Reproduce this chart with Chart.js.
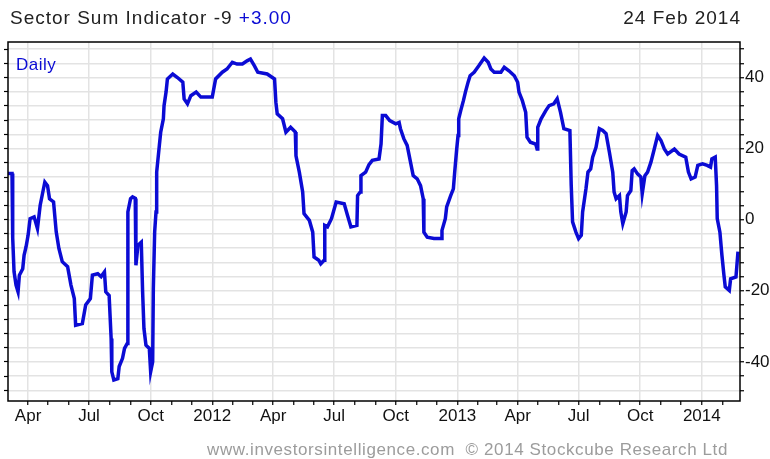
<!DOCTYPE html>
<html>
<head>
<meta charset="utf-8">
<script src="https://cdn.jsdelivr.net/npm/chart.js@4"></script>
<style>
  html, body { margin: 0; padding: 0; background: #fff; }
</style>
</head>
<body>
<canvas id="sectorChart" width="770" height="459"></canvas>
<script>
// header / footer texts
const titleText = 'Sector Sum Indicator -9';
const changeText = '+3.00';
const dateText = '24 Feb 2014';
const periodText = 'Daily';
const footerText = 'www.investorsintelligence.com  \u00A9 2014 Stockcube Research Ltd';

// series
const dates = [
  '2011-03-02','2011-03-08','2011-03-09','2011-03-11','2011-03-14','2011-03-17','2011-03-19','2011-03-24','2011-03-26','2011-03-29',
  '2011-04-01','2011-04-04','2011-04-10','2011-04-15','2011-04-19','2011-04-23','2011-04-26','2011-04-30','2011-05-03','2011-05-09',
  '2011-05-13','2011-05-17','2011-05-22','2011-05-30','2011-06-04','2011-06-09','2011-06-11','2011-06-21','2011-06-26','2011-07-03',
  '2011-07-06','2011-07-14','2011-07-19','2011-07-24','2011-07-26','2011-07-31','2011-08-03','2011-08-04','2011-08-07','2011-08-13',
  '2011-08-15','2011-08-20','2011-08-23','2011-08-27','2011-08-28','2011-09-01','2011-09-04','2011-09-08','2011-09-09','2011-09-12',
  '2011-09-17','2011-09-19','2011-09-21','2011-09-24','2011-09-29','2011-10-01','2011-10-04','2011-10-05','2011-10-07','2011-10-09',
  '2011-10-10','2011-10-14','2011-10-16','2011-10-20','2011-10-21','2011-10-24','2011-10-26','2011-11-03','2011-11-10','2011-11-18',
  '2011-11-20','2011-11-25','2011-11-30','2011-12-08','2011-12-15','2012-01-01','2012-01-06','2012-01-16','2012-01-23','2012-01-31',
  '2012-02-07','2012-02-15','2012-02-22','2012-02-27','2012-03-04','2012-03-09','2012-03-23','2012-04-03','2012-04-05','2012-04-07',
  '2012-04-15','2012-04-20','2012-04-27','2012-05-04','2012-05-05','2012-05-10','2012-05-15','2012-05-17','2012-05-25','2012-05-30',
  '2012-06-01','2012-06-08','2012-06-11','2012-06-16','2012-06-17','2012-06-21','2012-06-27','2012-07-04','2012-07-16','2012-07-21',
  '2012-07-26','2012-08-04','2012-08-05','2012-08-09','2012-08-10','2012-08-17','2012-08-22','2012-08-27','2012-09-06','2012-09-09',
  '2012-09-11','2012-09-16','2012-09-22','2012-10-01','2012-10-06','2012-10-08','2012-10-13','2012-10-18','2012-10-23','2012-10-27',
  '2012-11-02','2012-11-07','2012-11-11','2012-11-12','2012-11-17','2012-11-27','2012-12-08','2012-12-09','2012-12-14','2012-12-16',
  '2012-12-22','2012-12-26','2012-12-28','2012-12-31','2013-01-02','2013-01-03','2013-01-06','2013-01-10','2013-01-13','2013-01-17',
  '2013-01-20','2013-01-26','2013-02-02','2013-02-10','2013-02-16','2013-02-20','2013-02-25','2013-03-07','2013-03-12','2013-03-19',
  '2013-03-27','2013-04-01','2013-04-03','2013-04-08','2013-04-13','2013-04-15','2013-04-20','2013-04-28','2013-04-30','2013-05-01',
  '2013-05-06','2013-05-13','2013-05-18','2013-05-25','2013-05-30','2013-06-04','2013-06-09','2013-06-18','2013-06-20','2013-06-22',
  '2013-06-27','2013-07-01','2013-07-05','2013-07-07','2013-07-12','2013-07-15','2013-07-19','2013-07-22','2013-07-27','2013-08-01',
  '2013-08-06','2013-08-11','2013-08-16','2013-08-21','2013-08-23','2013-08-26','2013-08-31','2013-09-02','2013-09-05','2013-09-10',
  '2013-09-12','2013-09-17','2013-09-19','2013-09-22','2013-09-27','2013-10-02','2013-10-04','2013-10-08','2013-10-12','2013-10-17',
  '2013-10-22','2013-10-27','2013-11-01','2013-11-06','2013-11-11','2013-11-21','2013-11-28','2013-12-08','2013-12-12','2013-12-16',
  '2013-12-22','2013-12-26','2014-01-02','2014-01-09','2014-01-14','2014-01-16','2014-01-21','2014-01-23','2014-01-24','2014-01-28',
  '2014-01-31','2014-02-03','2014-02-05','2014-02-11','2014-02-13','2014-02-21','2014-02-24'
];
const values = [
  13, 13, -5, -14.6, -18.4, -20.3, -15.6, -13.8, -10, -7.6,
  -4.4, 0.3, 0.8, -2.5, 4, 7.8, 10.6, 9.6, 5.9, 5,
  -3.4, -8.1, -11.8, -13.2, -18.4, -22.2, -29.7, -29.2, -24, -22.2,
  -15.6, -15.2, -16, -14.7, -20.3, -21.3, -33.4, -42.8, -45.1, -44.7,
  -41.3, -39, -36.2, -34.8, 2.2, 5.9, 6.4, 6, -12.8, -7.2,
  -6.3, -20.3, -30.6, -35.3, -36.2, -42.8, -40, -19.4, -3.4, 2.2,
  13.4, 20.9, 24.6, 28.4, 32.1, 35.9, 39.6, 41, 40, 38.7,
  34, 32.6, 34.9, 35.9, 34.5, 34.5, 39.6, 41.5, 42.4, 44.3,
  43.8, 43.8, 44.7, 45.2, 43.3, 41.5, 41, 39.6, 33, 29.8,
  28.4, 24.6, 26, 24.7, 18, 13.4, 7.8, 1.7, -0.2, -3.5,
  -10.5, -11.4, -12.4, -11.4, -1.6, -2, 0.3, 5, 4.5, 1.2,
  -2, -1.6, 6.8, 7.8, 12.4, 13.4, 15.5, 16.7, 17.1, 21.3,
  29.3, 29.3, 27.9, 27, 27.4, 25.6, 22.8, 20.9, 16.2, 12.4,
  11.5, 9.6, 5.9, -3.5, -4.9, -5.3, -5.3, -3, 0.3, 3.6,
  6.8, 8.7, 13.4, 19.9, 23.7, 28.4, 30.7, 33.5, 35.9, 38.7,
  40.5, 41.5, 43.3, 45.5, 44.3, 42.4, 41.5, 41.5, 42.9, 41.9,
  40.5, 38.7, 35.9, 33.5, 30.2, 23.2, 21.8, 21.3, 19.9, 26,
  28.4, 30.7, 32.1, 32.6, 34, 30.2, 25.6, 25.1, 9.6, -0.6,
  -3.5, -5.3, -4.4, 2.2, 8.7, 13.4, 14.3, 17.6, 20.4, 25.6,
  25.1, 24.2, 19, 13.4, 7.8, 5.9, 6.8, 2.2, -1.1, 2.2,
  6.8, 8.2, 13.8, 14.3, 12.9, 12, 7.3, 12.4, 13.4, 16.2,
  19.9, 23.7, 22.3, 19.9, 18.5, 19.9, 18.5, 17.6, 13.4, 11.5,
  12, 15.3, 15.7, 15.3, 14.8, 17.1, 17.6, 9.6, 0.3, -3.5,
  -10, -15.6, -18.9, -19.9, -16.6, -16.1, -9
];

// axis ticks
const quarterTicks = ['2011-04-01','2011-07-01','2011-10-01','2012-01-01','2012-04-01','2012-07-01',
                      '2012-10-01','2013-01-01','2013-04-01','2013-07-01','2013-10-01','2014-01-01'];
const quarterLabels = ['Apr','Jul','Oct','2012','Apr','Jul','Oct','2013','Apr','Jul','Oct','2014'];
const yLabels = [40, 20, 0, -20, -40];
const yStep = 4;

const xMin = Date.parse('2011-03-02');
const xMax = Date.parse('2014-02-27');
const yMin = -51;
const yMax = 50;

const quarterMs = quarterTicks.map(d => Date.parse(d));

function monthTicks() {
  const out = [];
  for (let y = 2011; y <= 2014; y++) {
    for (let m = 0; m < 12; m++) {
      const t = Date.UTC(y, m, 1);
      if (t >= xMin && t <= xMax) out.push({ value: t });
    }
  }
  return out;
}

function yTicks() {
  const out = [];
  for (let v = -48; v <= 48; v += yStep) out.push({ value: v });
  return out;
}

const lineBlue = '#0b0bd4';
const gridGrey = '#e3e3e3';
const tickFont = { family: '"Liberation Sans", Arial, sans-serif', size: 17 };

const textPlugin = {
  id: 'chartText',
  afterDraw(chart) {
    const ctx = chart.ctx;
    const a = chart.chartArea;
    ctx.save();
    ctx.strokeStyle = '#000';
    ctx.lineWidth = 1.5;
    ctx.strokeRect(a.left, a.top, a.right - a.left, a.bottom - a.top);

    ctx.textBaseline = 'alphabetic';
    ctx.font = '19px "Liberation Sans", Arial, sans-serif';
    ctx.letterSpacing = '1px';
    ctx.textAlign = 'left';
    ctx.fillStyle = '#222';
    const head = titleText + ' ';
    ctx.fillText(head, 10, 24);
    ctx.fillStyle = lineBlue;
    ctx.fillText(changeText, 10 + ctx.measureText(head).width, 24);
    ctx.fillStyle = '#222';
    ctx.textAlign = 'right';
    ctx.fillText(dateText, 741, 24);

    ctx.font = '17px "Liberation Sans", Arial, sans-serif';
    ctx.letterSpacing = '0.5px';
    ctx.textAlign = 'left';
    ctx.fillStyle = lineBlue;
    ctx.fillText(periodText, 16, 70);

    ctx.letterSpacing = '0.6px';
    ctx.fillStyle = '#9c9c9c';
    ctx.fillText(footerText, 207, 455);
    ctx.restore();
  }
};

const ctx = document.getElementById('sectorChart').getContext('2d');
const sectorChart = new Chart(ctx, {
  type: 'line',
  data: {
    datasets: [{
      label: 'Sector Sum Indicator',
      data: dates.map((d, i) => ({ x: Date.parse(d), y: values[i] })),
      borderColor: lineBlue,
      borderWidth: 3.5,
      pointRadius: 0,
      tension: 0,
      fill: false
    }]
  },
  options: {
    responsive: false,
    animation: false,
    layout: { padding: { top: 42, left: 0, right: 0, bottom: 0 } },
    plugins: {
      legend: { display: false },
      tooltip: { enabled: false }
    },
    scales: {
      x: {
        type: 'linear',
        min: xMin,
        max: xMax,
        afterBuildTicks: scale => { scale.ticks = monthTicks(); },
        afterFit: scale => { scale.height = 58; },
        border: { display: false },
        grid: {
          color: c => (c.tick && quarterMs.includes(c.tick.value)) ? gridGrey : 'rgba(0,0,0,0)',
          lineWidth: 1.5,
          tickColor: '#000',
          tickWidth: 1.2,
          tickLength: 4
        },
        ticks: {
          autoSkip: false,
          maxRotation: 0,
          minRotation: 0,
          padding: 1,
          color: '#111',
          font: tickFont,
          callback: value => {
            const i = quarterMs.indexOf(value);
            return i >= 0 ? quarterLabels[i] : '';
          }
        }
      },
      y: {
        type: 'linear',
        position: 'right',
        min: yMin,
        max: yMax,
        afterBuildTicks: scale => { scale.ticks = yTicks(); },
        afterFit: scale => { scale.width = 30; },
        border: { display: false },
        grid: {
          color: gridGrey,
          lineWidth: 1.5,
          tickColor: '#000',
          tickWidth: 1.2,
          tickLength: 4
        },
        ticks: {
          autoSkip: false,
          padding: 1,
          color: '#111',
          font: tickFont,
          callback: value => yLabels.includes(value) ? String(value) : ''
        }
      },
      yLeft: {
        type: 'linear',
        position: 'left',
        min: yMin,
        max: yMax,
        afterBuildTicks: scale => { scale.ticks = yTicks(); },
        afterFit: scale => { scale.width = 8; },
        border: { display: false },
        grid: {
          drawOnChartArea: false,
          tickColor: '#000',
          tickWidth: 1.2,
          tickLength: 4
        },
        ticks: {
          autoSkip: false,
          padding: 0,
          callback: () => ''
        }
      }
    }
  },
  plugins: [textPlugin]
});
</script>
</body>
</html>
